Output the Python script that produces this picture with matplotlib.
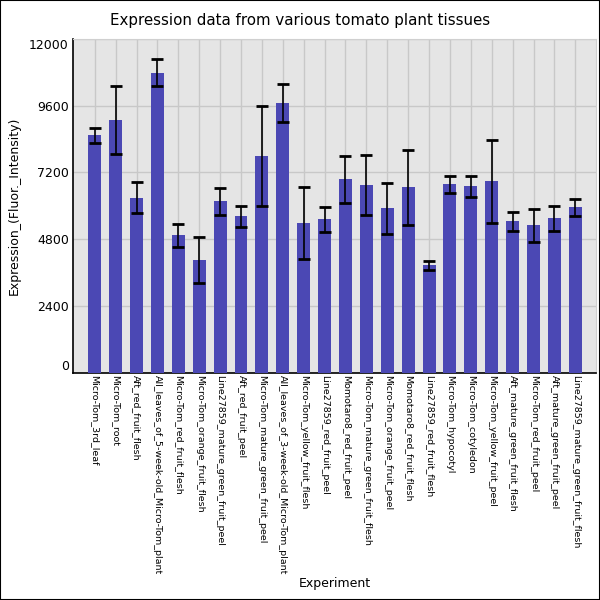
import matplotlib
matplotlib.use("Agg")
import matplotlib.pyplot as plt
import numpy as np

categories = [
    "Micro-Tom_3rd_leaf", "Micro-Tom_root", "Aft_red_fruit_flesh",
    "All_leaves_of_5-week-old_Micro-Tom_plant", "Micro-Tom_red_fruit_flesh",
    "Micro-Tom_orange_fruit_flesh", "Line27859_mature_green_fruit_peel",
    "Aft_red_fruit_peel", "Micro-Tom_mature_green_fruit_peel",
    "All_leaves_of_3-week-old_Micro-Tom_plant", "Micro-Tom_yellow_fruit_flesh",
    "Line27859_red_fruit_peel", "Momotaro8_red_fruit_peel",
    "Micro-Tom_mature_green_fruit_flesh", "Micro-Tom_orange_fruit_peel",
    "Momotaro8_red_fruit_flesh", "Line27859_red_fruit_flesh",
    "Micro-Tom_hypocotyl", "Micro-Tom_cotyledon", "Micro-Tom_yellow_fruit_peel",
    "Aft_mature_green_fruit_flesh", "Micro-Tom_red_fruit_peel",
    "Aft_mature_green_fruit_peel", "Line27859_mature_green_fruit_flesh",
]
values = [8530, 9100, 6300, 10790, 4940, 4040, 6160, 5620, 7780, 9710, 5370, 5520,
          6950, 6740, 5910, 6660, 3860, 6770, 6700, 6880, 5440, 5300, 5550, 5950]
errors = [280, 1220, 560, 490, 425, 825, 490, 380, 1800, 680, 1290, 450,
          855, 1080, 915, 1360, 170, 315, 365, 1490, 330, 600, 450, 310]
yticks = [0, 2400, 4800, 7200, 9600, 12000]

fig = plt.figure(figsize=(6, 6), dpi=100)
ax = fig.add_axes([73/600, 1-372.7/600, (596-73)/600, (372.7-39)/600])
ax.set_facecolor("#e5e5e5")

x = np.arange(len(categories))
ax.bar(x, values, width=0.62, color="#4b48b4", zorder=3)
ax.errorbar(x, values, yerr=errors, fmt="none", ecolor="black", elinewidth=1.2,
            capsize=4.3, capthick=2, zorder=4)

ax.set_xlim(-1.04, len(categories) - 0.01)
ax.set_ylim(0, 12000)
ax.set_xticks(x)
ax.set_xticklabels(categories, rotation=-90, fontsize=6.8, ha="center", va="top")
ax.set_yticks(yticks)
ax.set_yticklabels([str(v) for v in yticks], fontsize=9)
labs = ax.get_yticklabels()
labs[0].set_va("bottom")
labs[-1].set_va("top")
ax.tick_params(axis="x", length=0, pad=2)
ax.tick_params(axis="y", length=0, pad=3)
ax.grid(True, color="#c8c8c8", linewidth=1, zorder=0)
ax.set_axisbelow(True)
for s in ["top", "right"]:
    ax.spines[s].set_color("#d0d0d0")
for s in ["left", "bottom"]:
    ax.spines[s].set_color("black")
    ax.spines[s].set_linewidth(1.2)

ax.set_ylabel("Expression_(Fluor._Intensity)", fontsize=9, labelpad=6)
ax.set_xlabel("Experiment", fontsize=9)
ax.xaxis.set_label_coords(0.5, -(584-372.7)/(372.7-39))
ax.xaxis.label.set_va("center")
fig.text(0.5, 1-20/600, "Expression data from various tomato plant tissues",
         ha="center", va="center", fontsize=10.8)

fig.patches.append(plt.Rectangle((0, 0), 1, 1, transform=fig.transFigure,
                                 fill=False, edgecolor="black", linewidth=1.5))
fig.savefig("out.png", dpi=100)
